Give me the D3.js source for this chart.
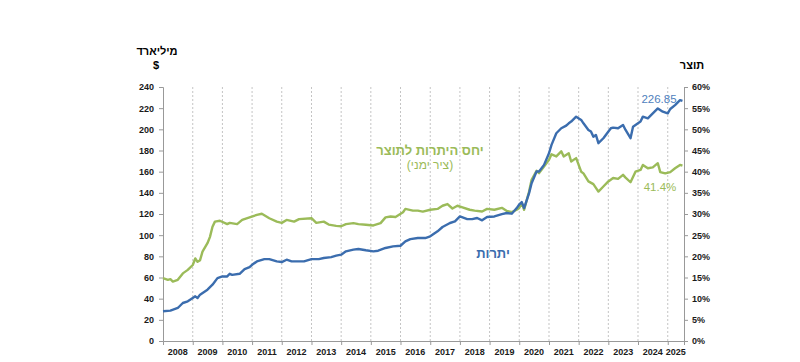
<!DOCTYPE html>
<html>
<head>
<meta charset="utf-8">
<script src="https://cdn.jsdelivr.net/npm/d3@7"></script>
<style>
  body { margin: 0; background: #fff; }
  text { font-family: "Liberation Sans", Arial, sans-serif; }
  .tick-label { font-size: 9px; font-weight: bold; fill: #1a1a1a; }
</style>
</head>
<body>
<div id="chart"></div>
<script>

// reserves, billion $ (left axis)
var reserves = [
  ["2008-01", 28.1], ["2008-04", 28.7], ["2008-07", 31.2], ["2008-09", 35.9], ["2008-11", 37.5],
  ["2009-01", 40.6], ["2009-02", 42.2], ["2009-03", 40.6], ["2009-04", 43.8], ["2009-07", 48.5],
  ["2009-09", 53.2], ["2009-11", 59.4], ["2010-01", 61.0], ["2010-03", 61.0], ["2010-04", 63.5],
  ["2010-05", 62.5], ["2010-08", 63.5], ["2010-10", 67.9], ["2010-12", 69.8], ["2011-01", 72.0],
  ["2011-03", 75.2], ["2011-06", 77.4], ["2011-08", 77.4], ["2011-11", 75.2], ["2012-01", 74.6],
  ["2012-03", 76.8], ["2012-05", 75.2], ["2012-07", 75.2], ["2012-10", 75.2], ["2013-01", 77.4],
  ["2013-04", 77.4], ["2013-06", 78.4], ["2013-09", 79.3], ["2013-11", 80.6], ["2014-01", 81.6],
  ["2014-03", 84.7], ["2014-06", 86.3], ["2014-08", 86.9], ["2014-11", 85.7], ["2015-02", 84.7],
  ["2015-04", 85.3], ["2015-07", 87.9], ["2015-10", 89.4], ["2016-01", 90.0], ["2016-03", 94.1],
  ["2016-05", 96.3], ["2016-08", 97.3], ["2016-11", 97.3], ["2017-01", 98.9], ["2017-04", 103.6],
  ["2017-06", 107.7], ["2017-09", 111.5], ["2017-11", 113.0], ["2018-01", 117.7], ["2018-04", 115.2],
  ["2018-06", 115.2], ["2018-08", 116.2], ["2018-10", 114.0], ["2018-12", 117.1], ["2019-03", 117.7],
  ["2019-06", 119.9], ["2019-08", 120.9], ["2019-10", 120.3], ["2019-12", 125.6], ["2020-01", 129.0],
  ["2020-02", 131.2], ["2020-03", 125.6], ["2020-05", 139.7], ["2020-06", 149.1], ["2020-08", 160.1],
  ["2020-09", 160.1], ["2020-11", 166.4], ["2021-01", 177.4], ["2021-02", 185.3], ["2021-04", 196.3],
  ["2021-06", 201.0], ["2021-08", 203.5], ["2021-09", 205.7], ["2021-10", 207.3], ["2021-12", 212.0],
  ["2022-02", 208.9], ["2022-03", 205.7], ["2022-05", 199.4], ["2022-06", 197.9], ["2022-07", 193.1],
  ["2022-08", 194.7], ["2022-09", 186.9], ["2022-11", 191.6], ["2022-12", 194.7], ["2023-02", 201.0],
  ["2023-03", 201.6], ["2023-05", 201.0], ["2023-07", 204.1], ["2023-08", 199.4], ["2023-10", 191.6],
  ["2023-11", 202.5], ["2024-01", 205.7], ["2024-02", 207.3], ["2024-03", 212.0], ["2024-05", 210.4],
  ["2024-07", 215.1], ["2024-09", 219.8], ["2024-11", 216.7], ["2025-01", 215.1], ["2025-02", 219.2],
  ["2025-04", 222.9], ["2025-06", 227.6], ["2025-07", 226.85]
];

// reserves to gdp, % (right axis)
var ratio = [
  ["2008-01", 14.85], ["2008-03", 14.45], ["2008-04", 14.6], ["2008-05", 14.05], ["2008-07", 14.45],
  ["2008-09", 15.97], ["2008-11", 16.8], ["2009-01", 17.95], ["2009-02", 19.5], ["2009-03", 18.7],
  ["2009-04", 19.1], ["2009-05", 21.1], ["2009-07", 23.1], ["2009-08", 24.6], ["2009-09", 27.0],
  ["2009-10", 28.2], ["2009-12", 28.4], ["2010-03", 27.6], ["2010-04", 27.9], ["2010-07", 27.6],
  ["2010-09", 28.6], ["2010-12", 29.2], ["2011-03", 29.8], ["2011-05", 30.05], ["2011-08", 29.0],
  ["2011-11", 28.2], ["2012-01", 27.9], ["2012-03", 28.6], ["2012-06", 28.2], ["2012-08", 28.8],
  ["2013-01", 29.0], ["2013-03", 27.9], ["2013-06", 28.2], ["2013-08", 27.5], ["2013-11", 27.2],
  ["2014-01", 27.1], ["2014-03", 27.6], ["2014-06", 27.85], ["2014-08", 27.6], ["2014-11", 27.45],
  ["2015-02", 27.3], ["2015-05", 27.85], ["2015-07", 29.2], ["2015-09", 29.4], ["2015-11", 29.3],
  ["2016-02", 30.4], ["2016-03", 31.2], ["2016-06", 30.8], ["2016-08", 30.8], ["2016-10", 30.55],
  ["2017-01", 31.0], ["2017-04", 31.2], ["2017-06", 31.95], ["2017-08", 32.35], ["2017-10", 31.3],
  ["2017-12", 31.95], ["2018-02", 31.55], ["2018-05", 31.0], ["2018-07", 30.8], ["2018-10", 30.6],
  ["2018-12", 31.2], ["2019-03", 31.0], ["2019-06", 31.45], ["2019-08", 30.7], ["2019-10", 30.45],
  ["2019-12", 31.0], ["2020-01", 31.4], ["2020-02", 32.6], ["2020-03", 31.0], ["2020-05", 35.3],
  ["2020-06", 38.1], ["2020-08", 40.2], ["2020-09", 39.65], ["2020-11", 41.2], ["2021-01", 42.8],
  ["2021-02", 44.1], ["2021-04", 43.6], ["2021-06", 44.8], ["2021-07", 43.6], ["2021-09", 44.35],
  ["2021-10", 42.4], ["2021-12", 43.2], ["2022-02", 40.0], ["2022-03", 39.6], ["2022-05", 37.7],
  ["2022-07", 37.05], ["2022-09", 35.3], ["2022-11", 36.5], ["2023-01", 37.7], ["2023-03", 38.5],
  ["2023-05", 38.3], ["2023-07", 39.25], ["2023-08", 38.6], ["2023-10", 37.5], ["2023-12", 40.0],
  ["2024-02", 40.4], ["2024-03", 41.6], ["2024-05", 40.8], ["2024-07", 41.0], ["2024-09", 42.0],
  ["2024-10", 39.9], ["2024-12", 39.6], ["2025-02", 39.9], ["2025-04", 40.8], ["2025-06", 41.6],
  ["2025-07", 41.4]
];

// axis ticks
var years = d3.range(2008, 2026);
var leftTicks = d3.range(0, 241, 20);
var rightTicks = d3.range(0, 61, 5);

var blue = "#3b6dae",
    green = "#9bbb59";

var width = 800, height = 362;
var margin = {top: 87, right: 116, bottom: 21, left: 163};

var parseMonth = d3.timeParse("%Y-%m");

var svg = d3.select("#chart")
  .append("svg")
  .attr("width", width)
  .attr("height", height);

var x = d3.scaleTime()
  .domain([new Date(2008, 0, 1), new Date(2025, 6, 20)])
  .range([margin.left, width - margin.right]);

var yLeft = d3.scaleLinear()
  .domain([0, 240])
  .range([height - margin.bottom, margin.top]);

var yRight = d3.scaleLinear()
  .domain([0, 60])
  .range([height - margin.bottom, margin.top]);

// vertical gridlines at year starts
svg.append("g")
  .selectAll("line")
  .data(years.slice(1))
  .enter().append("line")
    .attr("x1", function(d) { return x(new Date(d, 0, 1)); })
    .attr("x2", function(d) { return x(new Date(d, 0, 1)); })
    .attr("y1", yLeft(240))
    .attr("y2", yLeft(0))
    .attr("stroke", "#c4c4c4")
    .attr("stroke-width", 1)
    .attr("stroke-dasharray", "2,2");

// left axis
var axisL = svg.append("g")
  .attr("transform", "translate(" + margin.left + ",0)")
  .call(d3.axisLeft(yLeft).tickValues(leftTicks).tickSize(4).tickPadding(5));

// right axis
var axisR = svg.append("g")
  .attr("transform", "translate(" + (width - margin.right) + ",0)")
  .call(d3.axisRight(yRight).tickValues(rightTicks).tickSize(4).tickPadding(4)
    .tickFormat(function(d) { return d + "%"; }));

// bottom axis, ticks at year starts, labels centred in each year
var axisB = svg.append("g")
  .attr("transform", "translate(0," + (height - margin.bottom) + ")")
  .call(d3.axisBottom(x)
    .tickValues(years.slice(1).map(function(d) { return new Date(d, 0, 1); }))
    .tickSize(4)
    .tickFormat(""));

[axisL, axisR, axisB].forEach(function(g) {
  g.select(".domain").attr("stroke", "#999");
  g.selectAll(".tick line").attr("stroke", "#999");
  g.selectAll("text").attr("class", "tick-label");
});

var end = x.domain()[1];
svg.append("g")
  .selectAll("text")
  .data(years)
  .enter().append("text")
    .attr("class", "tick-label")
    .attr("text-anchor", "middle")
    .attr("x", function(d) {
      var a = new Date(d, 0, 1), b = new Date(d + 1, 0, 1);
      if (b > end) b = end;
      return (x(a) + x(b)) / 2;
    })
    .attr("y", height - 7)
    .text(function(d) { return d; });

// lines
var lineL = d3.line()
  .x(function(d) { return x(parseMonth(d[0])); })
  .y(function(d) { return yLeft(d[1]); });

var lineR = d3.line()
  .x(function(d) { return x(parseMonth(d[0])); })
  .y(function(d) { return yRight(d[1]); });

svg.append("path")
  .datum(ratio)
  .attr("fill", "none")
  .attr("stroke", green)
  .attr("stroke-width", 2.4)
  .attr("stroke-linejoin", "round")
  .attr("d", lineR);

svg.append("path")
  .datum(reserves)
  .attr("fill", "none")
  .attr("stroke", blue)
  .attr("stroke-width", 2.4)
  .attr("stroke-linejoin", "round")
  .attr("d", lineL);

// axis titles
svg.append("text")
  .attr("x", 157).attr("y", 55)
  .attr("text-anchor", "middle")
  .style("font-size", "11px").style("font-weight", "bold")
  .text("מיליארד");

svg.append("text")
  .attr("x", 156).attr("y", 69)
  .attr("text-anchor", "middle")
  .style("font-size", "11px").style("font-weight", "bold")
  .text("$");

svg.append("text")
  .attr("x", 692).attr("y", 69)
  .attr("text-anchor", "middle")
  .style("font-size", "11px").style("font-weight", "bold")
  .text("תוצר");

// series annotations
svg.append("text")
  .attr("x", 430).attr("y", 155)
  .attr("text-anchor", "middle")
  .attr("fill", green)
  .style("font-size", "13px").style("font-weight", "bold")
  .text("יחס היתרות לתוצר");

svg.append("text")
  .attr("x", 430).attr("y", 169)
  .attr("text-anchor", "middle")
  .attr("fill", green)
  .style("font-size", "12px")
  .text("(ציר ימני)");

svg.append("text")
  .attr("x", 493).attr("y", 258)
  .attr("text-anchor", "middle")
  .attr("fill", blue)
  .style("font-size", "13px").style("font-weight", "bold")
  .text("יתרות");

svg.append("text")
  .attr("x", 659).attr("y", 103)
  .attr("text-anchor", "middle")
  .attr("fill", "#4f81bd")
  .style("font-size", "11.5px")
  .text(reserves[reserves.length - 1][1]);

svg.append("text")
  .attr("x", 660).attr("y", 191)
  .attr("text-anchor", "middle")
  .attr("fill", green)
  .style("font-size", "11.5px")
  .text(ratio[ratio.length - 1][1] + "%");

</script>
</body>
</html>
